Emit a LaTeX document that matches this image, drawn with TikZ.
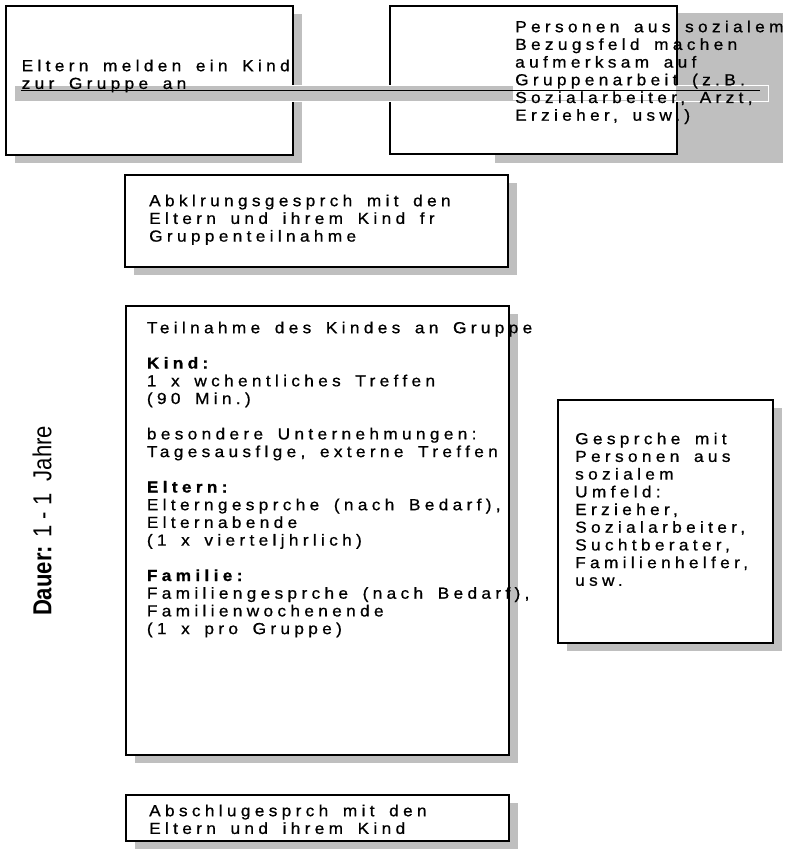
\documentclass[tikz,border=0pt]{standalone}
\usepackage{fontspec}
\setmainfont{Liberation Sans}
\newfontfamily\boxfont{Liberation Sans}[LetterSpace=27, WordSpace=1.6, FakeStretch=1.08, FakeBold=0.8]
\newfontfamily\narrowfont{Liberation Sans}[FakeStretch=0.85]
\usetikzlibrary{shadows, positioning}

\tikzset{
  box/.style={draw, line width=2pt, fill=white, inner sep=0pt, outer sep=0pt,
    anchor=north west},
  shadowbox/.style={box, drop shadow={fill=black!25, opacity=1,
    shadow xshift=9pt, shadow yshift=-8pt}},
  boxtext/.style={font=\boxfont\fontsize{16}{17.7}\selectfont, align=left,
    inner sep=0pt, anchor=north west}
}

\begin{document}
\begin{tikzpicture}[x=1pt, y=-1pt]
  \useasboundingbox (0,0) rectangle (794,855);

  % Boxes
  \node[shadowbox, minimum width=287pt, minimum height=149pt] (melden) at (6,6) {};
  \fill[black!25] (495,13) rectangle (783,163);
  \node[box, minimum width=287pt, minimum height=148pt] (umfeld) at (390,6) {};
  \node[shadowbox, minimum width=383pt, minimum height=92pt] (abklaerung) at (125,175) {};
  \node[shadowbox, minimum width=383pt, minimum height=449pt] (teilnahme) at (126,306) {};
  \node[shadowbox, minimum width=215pt, minimum height=243pt] (gespraeche) at (558,400) {};
  \node[shadowbox, minimum width=383pt, minimum height=46pt] (abschluss) at (126,795) {};

  % Bar across the top row
  \coordinate (bar-start) at (21,90.5);
  \coordinate (bar-end) at (760,90.5);
  \fill[black!25, draw=white, line width=1pt] (14,85) rectangle (768,101);
  \fill[white] (513,86) rectangle (676,100);
  \draw[line width=1pt] (bar-start) -- (bar-end);

  % Texts (first baseline about 11.6 below the node top)
  \node[boxtext] (melden-txt) at (21.5,59.4) {Eltern melden ein Kind\\zur Gruppe an};
  \node[boxtext] (umfeld-txt) at (515,20.4) {Personen aus sozialem\\Bezugsfeld machen\\
    aufmerksam auf\\Gruppenarbeit (z.B.\\Sozialarbeiter, Arzt,\\Erzieher, usw.)};
  \node[boxtext] (abklaerung-txt) at (149,194.4) {Abklrungsgesprch mit den\\
    Eltern und ihrem Kind fr\\Gruppenteilnahme};
  \node[boxtext] (teilnahme-txt) at (146.7,321.4) {Teilnahme des Kindes an Gruppe\\[17.7pt]
    \textbf{Kind:}\\1 x wchentliches Treffen\\(90 Min.)\\[17.7pt]
    besondere Unternehmungen:\\Tagesausflge, externe Treffen\\[17.7pt]
    \textbf{Eltern:}\\Elterngesprche (nach Bedarf),\\Elternabende\\(1 x vierteljhrlich)\\[17.7pt]
    \textbf{Familie:}\\Familiengesprche (nach Bedarf),\\Familienwochenende\\(1 x pro Gruppe)};
  \node[boxtext] (gespraeche-txt) at (575,432.4) {Gesprche mit\\Personen aus\\sozialem\\
    Umfeld:\\Erzieher,\\Sozialarbeiter,\\Suchtberater,\\Familienhelfer,\\usw.};
  \node[boxtext] (abschluss-txt) at (149,804.4) {Abschlugesprch mit den\\Eltern und ihrem Kind};

  % Duration label
  \node[rotate=90, font=\narrowfont\fontsize{26}{30}\selectfont] (dauer) at (42,521)
    {\textbf{Dauer:} 1 - 1\ \ Jahre};
\end{tikzpicture}
\end{document}
